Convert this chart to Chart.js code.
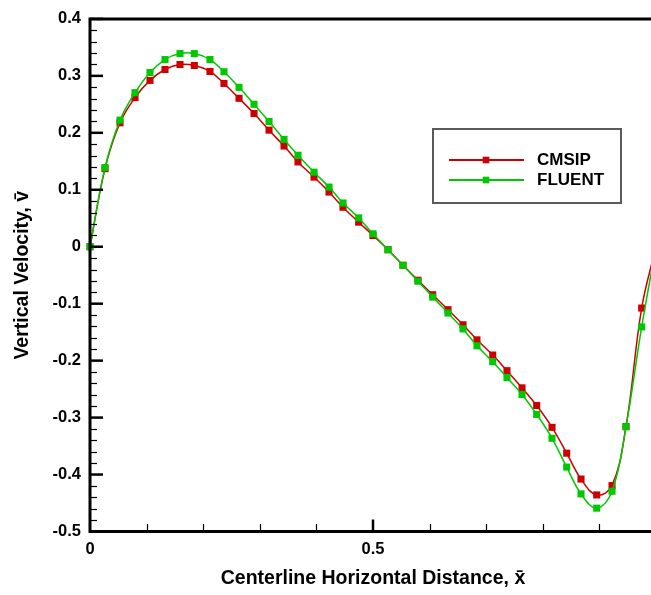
<!DOCTYPE html>
<html>
<head>
<meta charset="utf-8">
<script src="https://cdn.jsdelivr.net/npm/chart.js@4.4.1/dist/chart.umd.min.js"></script>
<style>
  html, body { margin: 0; padding: 0; background: #fff; overflow: hidden; }
  #wrap { width: 670px; height: 595px; }
</style>
</head>
<body>
<div id="wrap"><canvas id="c" width="670" height="595"></canvas></div>
<script>
// ---- data ----
const xValues = [0, 0.0265, 0.053, 0.0795, 0.106, 0.1325, 0.159, 0.1843, 0.212, 0.2367,
  0.2633, 0.2898, 0.3163, 0.3428, 0.3675, 0.3958, 0.4223, 0.447, 0.4747, 0.5,
  0.5265, 0.553, 0.5795, 0.6055, 0.6325, 0.659, 0.6837, 0.7115, 0.7367, 0.7633,
  0.7892, 0.8163, 0.8422, 0.8675, 0.8952, 0.9223, 0.947, 0.9747, 1.0];
const cmsipV = [0, 0.137, 0.2176, 0.2618, 0.292, 0.3112, 0.3199, 0.3182, 0.3077, 0.2867,
  0.2606, 0.2339, 0.2047, 0.1768, 0.1489, 0.1222, 0.096, 0.0693, 0.0431, 0.0197,
  -0.0052, -0.0326, -0.0588, -0.0843, -0.1105, -0.137, -0.1635, -0.1902, -0.2176, -0.2478,
  -0.2787, -0.3171, -0.3625, -0.4079, -0.4358, -0.4194, -0.3159, -0.1077, 0];
const fluentV = [0, 0.139, 0.2222, 0.2705, 0.3059, 0.3286, 0.3391, 0.3391, 0.3286, 0.3072,
  0.2798, 0.2501, 0.2199, 0.1885, 0.1606, 0.1309, 0.1047, 0.0768, 0.0506, 0.0227,
  -0.0052, -0.0326, -0.0606, -0.0885, -0.1164, -0.1443, -0.174, -0.2019, -0.2298, -0.2595,
  -0.2944, -0.3363, -0.3869, -0.434, -0.459, -0.4293, -0.3159, -0.1408, 0];
const seriesNames = ['CMSIP', 'FLUENT'];
const xTickLabels = { '0': '0', '0.5': '0.5' };
const xTitle = 'Centerline Horizontal Distance, x\u0304';
const yTitle = 'Vertical Velocity, v\u0304';

const RED = '#cc0000';
const GREEN = '#00c800';
const FONT = "'Liberation Sans', Arial, Helvetica, sans-serif";

function pts(ys) { return xValues.map((x, i) => ({ x: x, y: ys[i] })); }

const framePlugin = {
  id: 'frame',
  afterDatasetsDraw(chart) {
    const { ctx, chartArea: a, scales: { x, y } } = chart;
    ctx.save();
    ctx.strokeStyle = '#000';
    ctx.lineCap = 'butt';
    // y minor ticks (every 0.02)
    ctx.lineWidth = 1.2;
    for (let k = -25; k <= 20; k++) {
      if (k % 5 === 0) continue;
      const py = Math.round(y.getPixelForValue(k * 0.02)) + 0.5;
      ctx.beginPath(); ctx.moveTo(a.left, py); ctx.lineTo(a.left + 7, py); ctx.stroke();
    }
    // y major ticks (every 0.1)
    ctx.lineWidth = 2.5;
    for (let k = -5; k <= 4; k++) {
      const py = y.getPixelForValue(k * 0.1);
      ctx.beginPath(); ctx.moveTo(a.left, py); ctx.lineTo(a.left + 13, py); ctx.stroke();
    }
    // x minor ticks (every 0.1)
    ctx.lineWidth = 1.2;
    for (let k = 1; k < 10; k++) {
      if (k === 5) continue;
      const px = Math.round(x.getPixelForValue(k * 0.1)) + 0.5;
      ctx.beginPath(); ctx.moveTo(px, a.bottom); ctx.lineTo(px, a.bottom - 7.5); ctx.stroke();
    }
    // x major ticks
    ctx.lineWidth = 2.5;
    [0.5].forEach(v => {
      const px = x.getPixelForValue(v);
      ctx.beginPath(); ctx.moveTo(px, a.bottom); ctx.lineTo(px, a.bottom - 12); ctx.stroke();
    });
    // frame
    ctx.lineWidth = 3;
    ctx.beginPath();
    ctx.moveTo(a.left, a.bottom); ctx.lineTo(a.left, a.top);
    ctx.lineTo(a.right, a.top); ctx.lineTo(a.right, a.bottom); ctx.lineTo(a.left, a.bottom);
    ctx.closePath();
    ctx.stroke();
    ctx.restore();
  },
  afterDraw(chart) {
    const { ctx } = chart;
    const ds = chart.data.datasets;
    ctx.save();
    // legend box
    ctx.fillStyle = '#fff';
    ctx.fillRect(433, 129, 188, 74);
    ctx.strokeStyle = '#5a5a5a';
    ctx.lineWidth = 2;
    ctx.strokeRect(433, 129, 188, 74);
    const rowsY = [160, 180];
    ds.slice().sort((p, q) => p.legendIndex - q.legendIndex).forEach((d, i) => {
      const yy = rowsY[i];
      ctx.strokeStyle = d.borderColor;
      ctx.lineWidth = 2;
      ctx.beginPath(); ctx.moveTo(449, yy); ctx.lineTo(524, yy); ctx.stroke();
      ctx.fillStyle = d.pointBackgroundColor;
      ctx.fillRect(486 - 3.3, yy - 3.3, 6.6, 6.6);
      ctx.fillStyle = '#000';
      ctx.font = 'bold 17px ' + FONT;
      ctx.textBaseline = 'middle';
      ctx.textAlign = 'left';
      ctx.fillText(d.label, 537, yy + 0.5);
    });
    ctx.restore();
  }
};

new Chart(document.getElementById('c'), {
  type: 'line',
  data: {
    datasets: [
      {
        label: seriesNames[0], legendIndex: 0, order: 1,
        data: pts(cmsipV),
        borderColor: RED, backgroundColor: RED,
        pointBackgroundColor: RED, pointBorderWidth: 0,
        pointStyle: 'rect', pointRadius: 5,
        borderWidth: 1.5, tension: 0.4, fill: false, clip: false
      },
      {
        label: seriesNames[1], legendIndex: 1, order: 0,
        data: pts(fluentV),
        borderColor: GREEN, backgroundColor: GREEN,
        pointBackgroundColor: GREEN, pointBorderWidth: 0,
        pointStyle: 'rect', pointRadius: 5,
        borderWidth: 1.5, tension: 0.4, fill: false, clip: false
      }
    ]
  },
  options: {
    responsive: false,
    animation: false,
    devicePixelRatio: 1,
    layout: { padding: { top: 14.7, right: 14, left: 0, bottom: 0 } },
    plugins: { legend: { display: false }, tooltip: { enabled: false } },
    scales: {
      x: {
        type: 'linear', min: 0, max: 1,
        afterFit: s => { s.height = 63.5; },
        grid: { display: false, drawTicks: false },
        border: { display: false },
        ticks: {
          stepSize: 0.5, padding: 8, color: '#000', maxRotation: 0,
          font: { family: FONT, size: 16.5, weight: 'bold' },
          callback: v => xTickLabels[String(v)] || ''
        },
        title: {
          display: true, text: xTitle, color: '#000',
          font: { family: FONT, size: 19.5, weight: 'bold' },
          padding: { top: 0, bottom: 5 }
        }
      },
      y: {
        type: 'linear', min: -0.5, max: 0.4,
        afterFit: s => { s.width = 90; },
        grid: { display: false, drawTicks: false },
        border: { display: false },
        ticks: {
          stepSize: 0.1, padding: 9, color: '#000',
          font: { family: FONT, size: 16.5, weight: 'bold' },
          callback: v => (Math.abs(v) < 1e-9 ? '0' : Number(v).toFixed(1))
        },
        title: {
          display: true, text: yTitle, color: '#000',
          font: { family: FONT, size: 19.5, weight: 'bold' },
          padding: { top: 11, bottom: 0 }
        }
      }
    }
  },
  plugins: [framePlugin]
});
</script>
</body>
</html>
